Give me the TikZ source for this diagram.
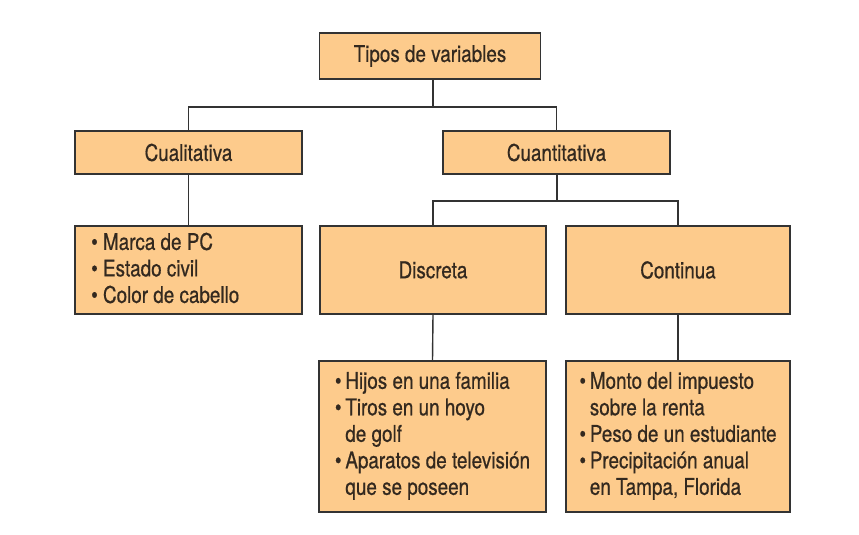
\documentclass[tikz,border=0pt]{standalone}
\usepackage{fontspec}
\setmainfont{TeX Gyre Heros}[FakeStretch=0.82,FakeBold=0.6]
\definecolor{boxfill}{HTML}{FDCB8C}
\definecolor{edgec}{HTML}{333333}
\definecolor{txt}{HTML}{33291F}
\newcommand{\bl}{\textbullet\ }
\begin{document}
\begin{tikzpicture}[x=1pt,y=-1pt,
  box/.style={draw=edgec,line width=1.4pt,fill=boxfill,text=txt,inner sep=0pt,
    font=\fontsize{23}{26.5}\selectfont},
  link/.style={draw=edgec,line width=1.4pt}]
\useasboundingbox (0,0) rectangle (859,535);
\node[box,minimum width=221,minimum height=46] (top) at (430,56) {Tipos de variables};
\node[box,minimum width=227,minimum height=43] (cual) at (188.5,152.5) {Cualitativa};
\node[box,minimum width=227,minimum height=43] (cuant) at (556.5,152.5) {Cuantitativa};
\node[box,minimum width=227,minimum height=88] (cuallist) at (188.5,270) {};
\node[anchor=west,text=txt,font=\fontsize{23}{26.5}\selectfont,align=left,inner sep=0pt] (cualtext) at (91,268) {\bl Marca de PC\\ \bl Estado civil\\ \bl Color de cabello};
\node[box,minimum width=226,minimum height=88] (disc) at (433,270) {Discreta};
\node[box,minimum width=224,minimum height=88] (cont) at (678,270) {Continua};
\node[box,minimum width=227,minimum height=151,align=left] (disclist) at (432.5,436.5)
  {\begin{tabular}{@{}l@{\,}l@{}}\textbullet & Hijos en una familia\\ \textbullet & Tiros en un hoyo\\ & de golf\\ \textbullet & Aparatos de televisión\\ & que se poseen\end{tabular}};
\node[box,minimum width=224,minimum height=151,align=left] (contlist) at (678,436.5)
  {\begin{tabular}{@{}l@{\,}l@{}}\textbullet & Monto del impuesto\\ & sobre la renta\\ \textbullet & Peso de un estudiante\\ \textbullet & Precipitación anual\\ & en Tampa, Florida\end{tabular}};
\coordinate (j1) at (433,107);
\coordinate (j2) at (557,201);
\draw[link] (top.south -| j1) -- (j1);
\draw[link] (cual.north) |- (j1) -| (cuant.north);
\draw[link] (cuant.south -| j2) -- (j2);
\draw[link] (disc.north) |- (j2) -| (cont.north);
\draw[link] (cual.south) -- (cuallist.north);
\draw[link] (disc.south) -- (disclist.north);
\draw[link] (cont.south) -- (contlist.north);
\end{tikzpicture}
\end{document}
